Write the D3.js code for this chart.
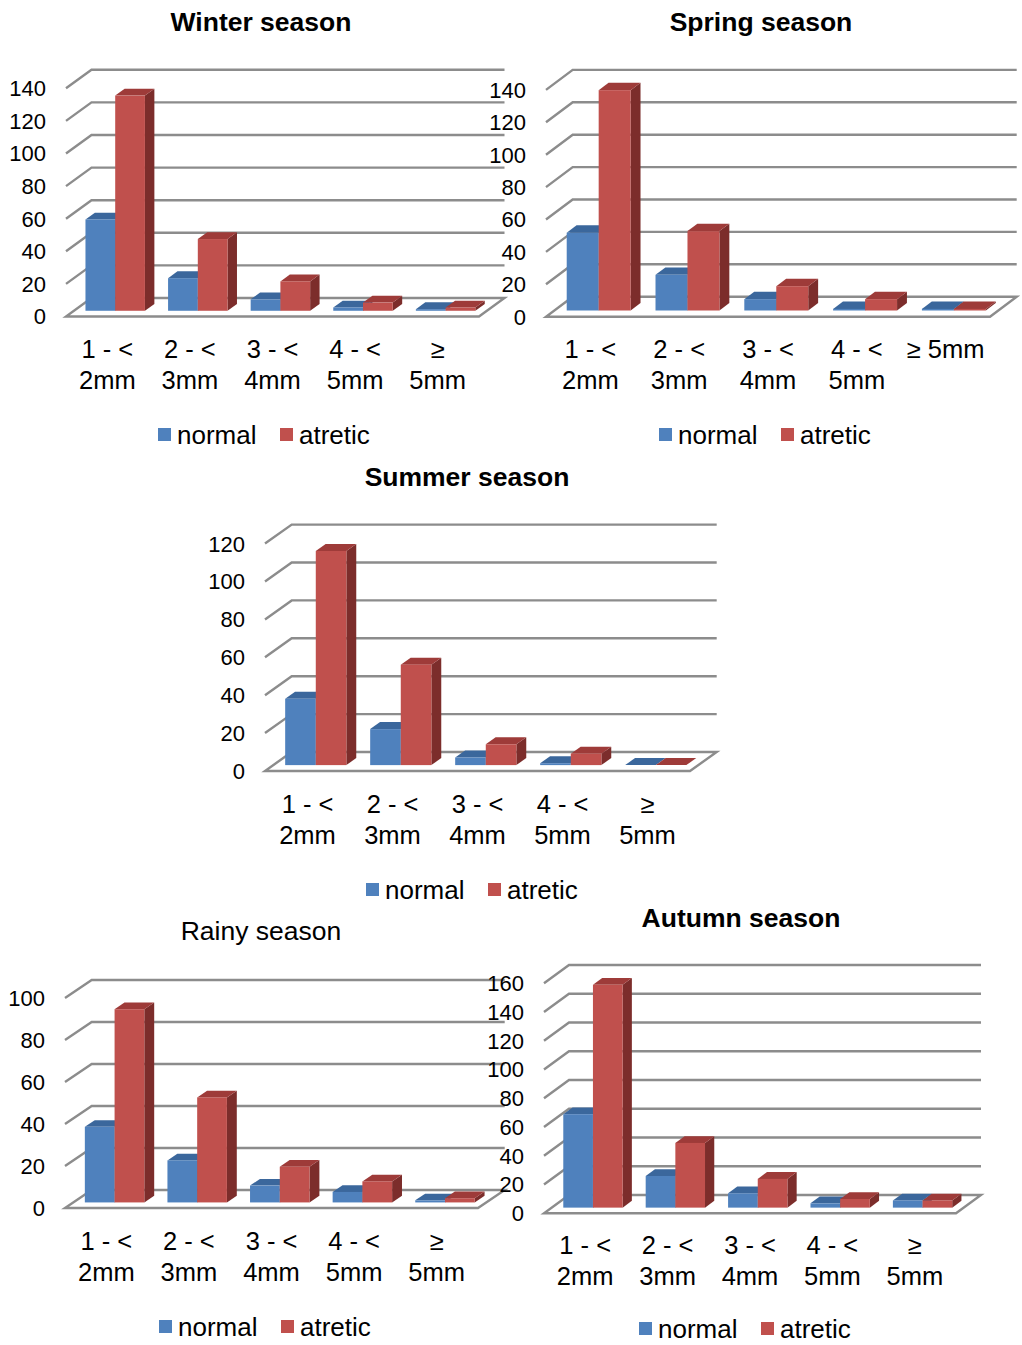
<!DOCTYPE html>
<html>
<head>
<meta charset="utf-8">
<script src="https://cdn.jsdelivr.net/npm/d3@7"></script>
<style>
  html, body { margin: 0; padding: 0; background: #fff; }
  svg { display: block; font-family: "Liberation Sans", Arial, sans-serif; }
</style>
</head>
<body>
<svg id="chart" width="1022" height="1345"></svg>
<script>
// Follicle size classes (x axis) and the two groups compared
const categories = ["1 - < 2mm", "2 - < 3mm", "3 - < 4mm", "4 - < 5mm", "≥ 5mm"];
const seriesNames = ["normal", "atretic"];

// Follicle counts per season
const winterNormal  = [56, 20, 7, 2, 1];
const winterAtretic = [132, 44, 18, 5, 2];
const springNormal  = [48, 22, 7, 1, 1];
const springAtretic = [136, 49, 15, 7, 1];
const summerNormal  = [35, 19, 4, 1, 0];
const summerAtretic = [113, 53, 11, 6, 0];
const rainyNormal   = [36, 20, 8, 5, 1];
const rainyAtretic  = [92, 50, 17, 10, 2];
const autumnNormal  = [65, 22, 10, 3, 5];
const autumnAtretic = [155, 45, 20, 6, 5];

// Value-axis tick labels
const ticks140 = [0, 20, 40, 60, 80, 100, 120, 140];
const ticks120 = [0, 20, 40, 60, 80, 100, 120];
const ticks100 = [0, 20, 40, 60, 80, 100];
const ticks160 = [0, 20, 40, 60, 80, 100, 120, 140, 160];

const palette = {
  normal:  { front: "#4f81bd", top: "#3b679c", side: "#2f5483" },
  atretic: { front: "#c0504d", top: "#9e3b39", side: "#7c2d2b" }
};
const gridColor = "#8c8c8c";

// Panel layout: floor front-left corner (fx, fy), floor width, depth vector,
// pixel height of the top tick, title and legend anchors.
const panels = [
  { title: "Winter season", bold: true, tx: 261, ty: 21, normal: winterNormal, atretic: winterAtretic,
    ticks: ticks140, fx: 66, fy: 316.5, W: 413, dx: 25.5, dy: -18.5, H: 228.2, labelY: 349, lx: 158, ly: 435, oneLineLast: false },
  { title: "Spring season", bold: true, tx: 761, ty: 21, normal: springNormal, atretic: springAtretic,
    ticks: ticks140, fx: 546, fy: 316.7, W: 444, dx: 26.7, dy: -20, H: 226.8, labelY: 349, lx: 659, ly: 435, oneLineLast: true },
  { title: "Summer season", bold: true, tx: 467, ty: 476, normal: summerNormal, atretic: summerAtretic,
    ticks: ticks120, fx: 265, fy: 771, W: 425, dx: 26.7, dy: -19, H: 227.4, labelY: 804, lx: 366, ly: 890, oneLineLast: false },
  { title: "Rainy season", bold: false, tx: 261, ty: 930, normal: rainyNormal, atretic: rainyAtretic,
    ticks: ticks100, fx: 65, fy: 1208, W: 413, dx: 26.7, dy: -18, H: 210, labelY: 1241, lx: 159, ly: 1327, oneLineLast: false },
  { title: "Autumn season", bold: true, tx: 741, ty: 917, normal: autumnNormal, atretic: autumnAtretic,
    ticks: ticks160, fx: 544, fy: 1213.3, W: 412, dx: 25, dy: -18.3, H: 230, labelY: 1245, lx: 639, ly: 1329, oneLineLast: false }
];

const svg = d3.select("#chart");
const F0 = 0.31, F1 = 0.68; // depth range occupied by the bars

function drawPanel(p) {
  const g = svg.append("g");
  const maxTick = d3.max(p.ticks);
  const y = d3.scaleLinear().domain([0, maxTick]).range([p.fy, p.fy - p.H]);
  const x = d3.scaleBand().domain(categories).range([0, p.W]).paddingInner(0.28).paddingOuter(0.14);
  const xs = d3.scaleBand().domain(seriesNames).range([0, x.bandwidth()]);

  // back wall gridlines with their left-edge diagonals
  g.selectAll("path.grid").data(p.ticks.filter(t => t > 0)).join("path")
    .attr("class", "grid")
    .attr("d", t => `M${p.fx},${y(t)} L${p.fx + p.dx},${y(t) + p.dy} L${p.fx + p.dx + p.W},${y(t) + p.dy}`)
    .attr("fill", "none").attr("stroke", gridColor).attr("stroke-width", 2.4);

  // floor
  g.append("path")
    .attr("d", `M${p.fx},${p.fy} L${p.fx + p.W},${p.fy} L${p.fx + p.W + p.dx},${p.fy + p.dy} L${p.fx + p.dx},${p.fy + p.dy} Z`)
    .attr("fill", "#fff").attr("stroke", gridColor).attr("stroke-width", 2.4).attr("stroke-linejoin", "miter");

  // value labels
  g.selectAll("text.tick").data(p.ticks).join("text")
    .attr("class", "tick")
    .attr("x", p.fx - 20).attr("y", t => y(t)).attr("dy", "0.36em")
    .attr("text-anchor", "end").attr("font-size", 22).attr("fill", "#000")
    .text(t => t);

  // 3D bars
  const ox = F0 * p.dx, oy = F0 * p.dy;
  const ddx = (F1 - F0) * p.dx, ddy = (F1 - F0) * p.dy;
  const bars = [];
  categories.forEach((c, i) => {
    seriesNames.forEach(s => bars.push({ c, s, v: p[s][i] }));
  });
  const bg = g.selectAll("g.bar").data(bars).join("g").attr("class", "bar");
  bg.each(function (d) {
    const b = d3.select(this);
    const x0 = p.fx + ox + x(d.c) + xs(d.s);
    const x1 = x0 + xs.bandwidth();
    const yb = y(0) + oy;
    const yt = y(d.v) + oy;
    const col = palette[d.s];
    b.append("path") // side
      .attr("d", `M${x1},${yb} L${x1 + ddx},${yb + ddy} L${x1 + ddx},${yt + ddy} L${x1},${yt} Z`)
      .attr("fill", col.side);
    b.append("path") // top
      .attr("d", `M${x0},${yt} L${x1},${yt} L${x1 + ddx},${yt + ddy} L${x0 + ddx},${yt + ddy} Z`)
      .attr("fill", col.top);
    b.append("rect") // front
      .attr("x", x0).attr("y", yt).attr("width", xs.bandwidth()).attr("height", Math.max(0, yb - yt))
      .attr("fill", col.front);
  });

  // category labels
  const lab = g.selectAll("text.cat").data(categories).join("text")
    .attr("class", "cat")
    .attr("text-anchor", "middle").attr("font-size", 25.5).attr("fill", "#000");
  lab.each(function (c, i) {
    const t = d3.select(this);
    const cx = p.fx + x(c) + x.bandwidth() / 2;
    const lines = (p.oneLineLast && i === categories.length - 1) ? [c] : c.split(/ (?=\S+mm$)/);
    lines.forEach((ln, j) => {
      t.append("tspan").attr("x", cx).attr("y", p.labelY + j * 31).attr("dy", "0.36em").text(ln);
    });
  });

  // title
  svg.append("text")
    .attr("x", p.tx).attr("y", p.ty).attr("dy", "0.36em")
    .attr("text-anchor", "middle").attr("font-size", 26.5)
    .attr("font-weight", p.bold ? "bold" : "normal").attr("fill", "#000")
    .text(p.title);

  // legend
  const lg = svg.append("g");
  const offs = { normal: 0, atretic: 122 };
  seriesNames.forEach(s => {
    lg.append("rect").attr("x", p.lx + offs[s]).attr("y", p.ly - 7).attr("width", 13).attr("height", 13)
      .attr("fill", palette[s].front);
    lg.append("text").attr("x", p.lx + offs[s] + 19).attr("y", p.ly).attr("dy", "0.36em")
      .attr("font-size", 26).attr("fill", "#000").text(s);
  });
}

panels.forEach(drawPanel);
</script>
</body>
</html>
